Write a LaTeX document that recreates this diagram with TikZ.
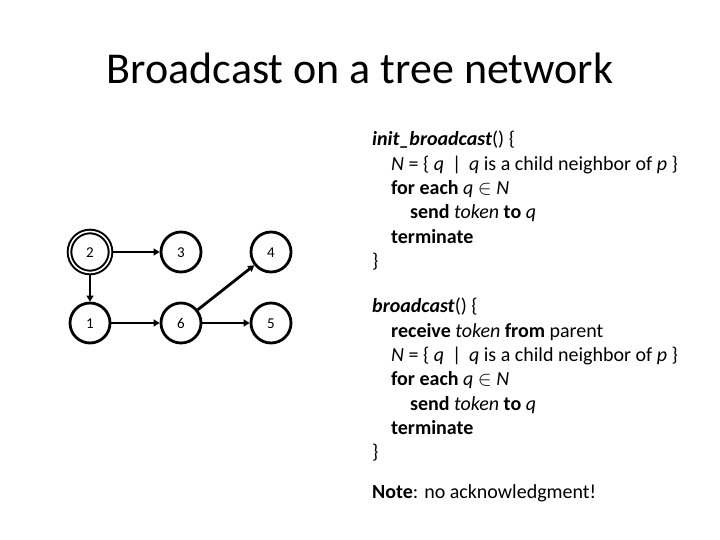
\documentclass[tikz,border=0pt]{standalone}
\usepackage{fontspec}
\setmainfont{Carlito}
\usetikzlibrary{arrows.meta, positioning}
\tikzset{
	treenode/.style={
			circle,
			draw=black,
			line width=2.8pt,
			fill=white,
			minimum size=40pt,
			inner sep=0pt,
			text height=10pt,
			text depth=0pt,
			font=\fontsize{15}{17}\selectfont
		},
	rootnode/.style={
			treenode,
			line width=2pt,
			double,
			double distance=1.6pt,
			minimum size=41pt
		},
	treeedge/.style={
			line width=2.8pt,
			-{Triangle[length=6pt,width=7pt]}
		},
	codeblock/.style={
			anchor=north west,
			align=left,
			inner sep=0pt,
			font=\fontsize{20}{24.3}\selectfont
		}
}
\newcommand{\ind}{\hspace*{19pt}}

\begin{document}
\begin{tikzpicture}[x=1pt, y=-1pt]
\useasboundingbox (0,0) rectangle (720,540);

\node[font=\fontsize{44}{52}\selectfont] (title) at (360,68) {Broadcast on a tree network};

\node[rootnode] (n2) at (90,252)  {2};
\node[treenode] (n3) at (181,252) {3};
\node[treenode] (n4) at (271,252) {4};
\node[treenode] (n1) at (90,323)  {1};
\node[treenode] (n6) at (181,323) {6};
\node[treenode] (n5) at (271,323) {5};

\draw[treeedge] (n2) -- (n3);
\draw[treeedge] (n2) -- (n1);
\draw[treeedge] (n1) -- (n6);
\draw[treeedge] (n6) -- (n4);
\draw[treeedge] (n6) -- (n5);

\node[codeblock] (initcode) at (372,131) {%
\textbf{\textit{init\_broadcast}}() \{\\
\ind\textit{N} = \{ \textit{q} \,|\, \textit{q} is a child neighbor of \textit{p} \}\\
\ind\textbf{for each} \textit{q} $\in$ \textit{N}\\
\ind\ind\textbf{send} \textit{token} \textbf{to} \textit{q}\\
\ind\textbf{terminate}\\
\}};

\node[codeblock] (bcastcode) at (372,298) {%
\textbf{\textit{broadcast}}() \{\\
\ind\textbf{receive} \textit{token} \textbf{from} parent\\
\ind\textit{N} = \{ \textit{q} \,|\, \textit{q} is a child neighbor of \textit{p} \}\\
\ind\textbf{for each} \textit{q} $\in$ \textit{N}\\
\ind\ind\textbf{send} \textit{token} \textbf{to} \textit{q}\\
\ind\textbf{terminate}\\
\}\\[16pt]
\textbf{Note}: no acknowledgment!};
\end{tikzpicture}
\end{document}
